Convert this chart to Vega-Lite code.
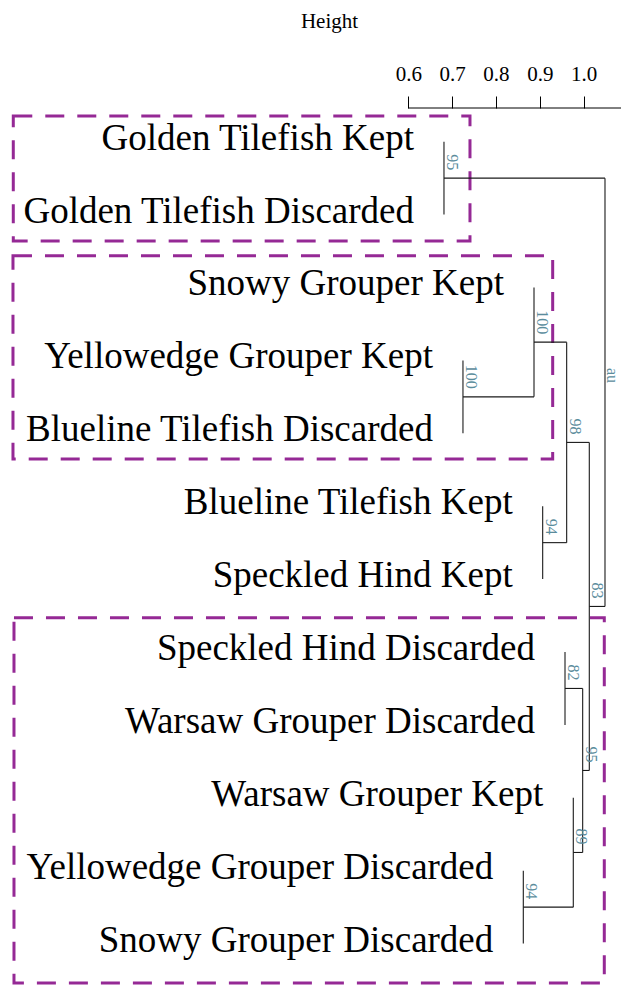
{
  "$schema": "https://vega.github.io/schema/vega-lite/v6.json",
  "width": 621,
  "height": 877,
  "autosize": {"type": "none"},
  "padding": {"top": 108, "left": 0, "right": 0, "bottom": 0},
  "background": "white",
  "config": {
    "view": {"stroke": null},
    "font": "Liberation Serif, Times New Roman, DejaVu Serif, serif"
  },
  "datasets": {
    "segments": [
      {"x": 0.6814, "x2": 0.6814, "y": 0, "y2": 1},
      {"x": 0.7247, "x2": 0.7247, "y": 3, "y2": 4},
      {"x": 0.8867, "x2": 0.8867, "y": 2, "y2": 3.5},
      {"x": 0.9065, "x2": 0.9065, "y": 5, "y2": 6},
      {"x": 0.9612, "x2": 0.9612, "y": 2.75, "y2": 5.5},
      {"x": 0.9574, "x2": 0.9574, "y": 7, "y2": 8},
      {"x": 0.8623, "x2": 0.8623, "y": 10, "y2": 11},
      {"x": 0.9763, "x2": 0.9763, "y": 9, "y2": 10.5},
      {"x": 0.9977, "x2": 0.9977, "y": 7.5, "y2": 9.75},
      {"x": 1.0128, "x2": 1.0128, "y": 4.125, "y2": 8.625},
      {"x": 1.0486, "x2": 1.0486, "y": 0.5, "y2": 6.375},
      {"x": 0.6814, "x2": 1.0486, "y": 0.5, "y2": 0.5},
      {"x": 0.7247, "x2": 0.8867, "y": 3.5, "y2": 3.5},
      {"x": 0.8867, "x2": 0.9612, "y": 2.75, "y2": 2.75},
      {"x": 0.9065, "x2": 0.9612, "y": 5.5, "y2": 5.5},
      {"x": 0.9612, "x2": 1.0128, "y": 4.125, "y2": 4.125},
      {"x": 0.9574, "x2": 0.9977, "y": 7.5, "y2": 7.5},
      {"x": 0.8623, "x2": 0.9763, "y": 10.5, "y2": 10.5},
      {"x": 0.9763, "x2": 0.9977, "y": 9.75, "y2": 9.75},
      {"x": 0.9977, "x2": 1.0128, "y": 8.625, "y2": 8.625},
      {"x": 1.0128, "x2": 1.0486, "y": 6.375, "y2": 6.375}
    ],
    "leaves": [
      {"label": "Golden Tilefish Kept", "pos": 0, "parent": 0.6814},
      {"label": "Golden Tilefish Discarded", "pos": 1, "parent": 0.6814},
      {"label": "Snowy Grouper Kept", "pos": 2, "parent": 0.8867},
      {"label": "Yellowedge Grouper Kept", "pos": 3, "parent": 0.7247},
      {"label": "Blueline Tilefish Discarded", "pos": 4, "parent": 0.7247},
      {"label": "Blueline Tilefish Kept", "pos": 5, "parent": 0.9065},
      {"label": "Speckled Hind Kept", "pos": 6, "parent": 0.9065},
      {"label": "Speckled Hind Discarded", "pos": 7, "parent": 0.9574},
      {"label": "Warsaw Grouper Discarded", "pos": 8, "parent": 0.9574},
      {"label": "Warsaw Grouper Kept", "pos": 9, "parent": 0.9763},
      {"label": "Yellowedge Grouper Discarded", "pos": 10, "parent": 0.8623},
      {"label": "Snowy Grouper Discarded", "pos": 11, "parent": 0.8623}
    ],
    "au": [
      {"au": "95", "height": 0.6814, "pos": 0.5},
      {"au": "100", "height": 0.7247, "pos": 3.5},
      {"au": "100", "height": 0.8867, "pos": 2.75},
      {"au": "94", "height": 0.9065, "pos": 5.5},
      {"au": "98", "height": 0.9612, "pos": 4.125},
      {"au": "82", "height": 0.9574, "pos": 7.5},
      {"au": "94", "height": 0.8623, "pos": 10.5},
      {"au": "89", "height": 0.9763, "pos": 9.75},
      {"au": "95", "height": 0.9977, "pos": 8.625},
      {"au": "83", "height": 1.0128, "pos": 6.375}
    ],
    "legend": [
      {"text": "au", "height": 1.0486, "pos": 3.207}
    ],
    "rects": [
      {"x1": -0.3008, "x2": 0.7407, "y1": -0.3525, "y2": 1.362},
      {"x1": -0.3015, "x2": 0.9293, "y1": 1.564, "y2": 4.353},
      {"x1": -0.2992, "x2": 1.047, "y1": 6.529, "y2": 11.54}
    ],
    "axisline": [
      {"from": 0.6, "to": 1.0851, "pos": -0.4623}
    ]
  },
  "layer": [
    {
      "data": {"name": "axisline"},
      "mark": {"type": "rule", "color": "black", "strokeWidth": 1},
      "encoding": {
        "x": {
          "field": "from", "type": "quantitative", "title": "Height",
          "scale": {"domain": [-0.3311, 1.0851], "nice": false, "zero": false},
          "axis": {
            "orient": "top",
            "values": [0.6, 0.7, 0.8, 0.9, 1.0],
            "format": ".1f",
            "domain": false,
            "grid": false,
            "tickSize": 12,
            "tickColor": "black",
            "tickWidth": 1,
            "labelFont": "Liberation Serif, Times New Roman, DejaVu Serif, serif",
            "labelFontSize": 21,
            "labelColor": "black",
            "labelBaseline": "alphabetic",
            "labelPadding": 16,
            "labelFlush": false,
            "labelOverlap": false,
            "titleFont": "Liberation Serif, Times New Roman, DejaVu Serif, serif",
            "titleFontSize": 21,
            "titleFontWeight": "normal",
            "titleColor": "black",
            "titleX": 329,
            "titleY": -81,
            "titleAlign": "center",
            "titleBaseline": "alphabetic"
          }
        },
        "x2": {"field": "to"},
        "y": {"field": "pos", "type": "quantitative", "axis": null, "scale": {"domain": [-0.4623, 11.568], "nice": false, "zero": false, "reverse": true}}
      }
    },
    {
      "data": {"name": "rects"},
      "mark": {"type": "rect", "filled": false, "stroke": "#952995", "strokeWidth": 3, "strokeDash": [19, 13]},
      "encoding": {
        "x": {"field": "x1", "type": "quantitative", "title": "Height"},
        "x2": {"field": "x2"},
        "y": {"field": "y1", "type": "quantitative", "axis": null},
        "y2": {"field": "y2"}
      }
    },
    {
      "data": {"name": "segments"},
      "mark": {"type": "rule", "color": "#1a1a1a", "strokeWidth": 1.1},
      "encoding": {
        "x": {"field": "x", "type": "quantitative", "title": "Height"},
        "x2": {"field": "x2"},
        "y": {"field": "y", "type": "quantitative", "axis": null},
        "y2": {"field": "y2"}
      }
    },
    {
      "data": {"name": "leaves"},
      "mark": {"type": "text", "font": "Liberation Serif, Times New Roman, DejaVu Serif, serif", "fontSize": 37, "align": "right", "baseline": "alphabetic", "dx": -30, "dy": 8, "color": "black"},
      "encoding": {
        "x": {"field": "parent", "type": "quantitative", "title": "Height"},
        "y": {"field": "pos", "type": "quantitative", "axis": null},
        "text": {"field": "label"}
      }
    },
    {
      "data": {"name": "au"},
      "mark": {"type": "text", "font": "Liberation Serif, Times New Roman, DejaVu Serif, serif", "fontSize": 16, "align": "right", "baseline": "alphabetic", "angle": 90, "dx": -8, "dy": -3, "color": "#5b8c9c"},
      "encoding": {
        "x": {"field": "height", "type": "quantitative", "title": "Height"},
        "y": {"field": "pos", "type": "quantitative", "axis": null},
        "text": {"field": "au"}
      }
    },
    {
      "data": {"name": "legend"},
      "mark": {"type": "text", "font": "Liberation Serif, Times New Roman, DejaVu Serif, serif", "fontSize": 16, "align": "center", "baseline": "alphabetic", "angle": 90, "dy": -2, "color": "#5b8c9c"},
      "encoding": {
        "x": {"field": "height", "type": "quantitative", "title": "Height"},
        "y": {"field": "pos", "type": "quantitative", "axis": null},
        "text": {"field": "text"}
      }
    }
  ]
}
